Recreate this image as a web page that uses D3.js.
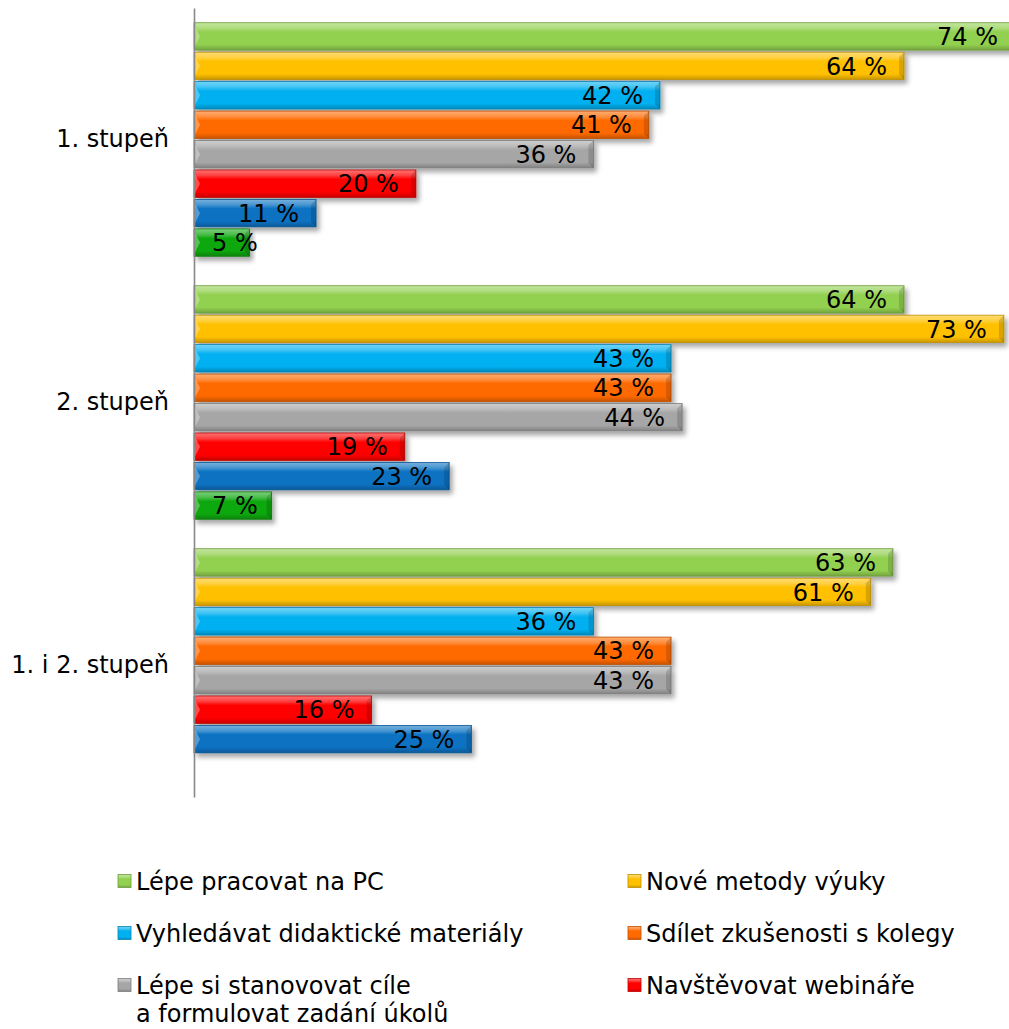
<!DOCTYPE html>
<html lang="cs">
<head>
<meta charset="UTF-8">
<title>Stupně - grouped bars</title>
<script src="https://d3js.org/d3.v7.min.js"></script>
<style>
    html, body { margin: 0; padding: 0; background: #fff; overflow: hidden; }
    body { font-family: "DejaVu Sans", Verdana, sans-serif; }
    text { fill: #000; }
</style>
</head>
<body>
<svg width="1009" height="1029"></svg>
<script>
// data
const categories = ["1. stupeň", "2. stupeň", "1. i 2. stupeň"];
const seriesNames = [
    "Lépe pracovat na PC",
    "Nové metody výuky",
    "Vyhledávat didaktické materiály",
    "Sdílet zkušenosti s kolegy",
    "Lépe si stanovovat cíle\na formulovat zadání úkolů",
    "Navštěvovat webináře",
    "",
    ""
];
const pcValues = [74, 64, 63];
const metodyValues = [64, 73, 61];
const materialyValues = [42, 43, 36];
const zkusenostiValues = [41, 43, 43];
const cileValues = [36, 44, 43];
const webinareValues = [20, 19, 16];
const series7Values = [11, 23, 25];
const series8Values = [5, 7, null];
const colors = ["#92d050", "#ffc000", "#00b0f0", "#ff6a00", "#a6a6a6", "#ff0000", "#0a72c2", "#10a810"];

const allValues = [pcValues, metodyValues, materialyValues, zkusenostiValues,
    cileValues, webinareValues, series7Values, series8Values];

const svg = d3.select("svg");
const defs = svg.append("defs");

// bevel-ish gradients
colors.forEach((c, i) => {
    const base = d3.color(c);
    const g = defs.append("linearGradient").attr("id", "g" + i)
        .attr("x1", 0).attr("y1", 0).attr("x2", 0).attr("y2", 1);
    g.append("stop").attr("offset", "0%").attr("stop-color", d3.interpolateRgb(c, "#fff")(0.45));
    g.append("stop").attr("offset", "20%").attr("stop-color", d3.interpolateRgb(c, "#fff")(0.25));
    g.append("stop").attr("offset", "34%").attr("stop-color", c);
    g.append("stop").attr("offset", "80%").attr("stop-color", c);
    g.append("stop").attr("offset", "100%").attr("stop-color", base.darker(0.7));
});
const shadow = defs.append("filter").attr("id", "shadow")
    .attr("x", "-5%").attr("y", "-30%").attr("width", "115%").attr("height", "190%");
shadow.append("feDropShadow").attr("dx", 3).attr("dy", 4).attr("stdDeviation", 2.5)
    .attr("flood-color", "#000").attr("flood-opacity", 0.35);

const x = d3.scaleLinear().domain([0, 74]).range([194, 1015]);
const y0 = d3.scaleBand().domain(categories).range([8, 797]);
const y1 = d3.scaleBand().domain(d3.range(colors.length))
    .range([0, y0.bandwidth()]).paddingInner(0.07).paddingOuter(0.5);

const bars = [];
categories.forEach((cat, ci) => {
    allValues.forEach((vals, si) => {
        if (vals[ci] != null) bars.push({ cat, si, v: vals[ci] });
    });
});

const barG = svg.append("g");
const bar = barG.selectAll("g.bar").data(bars).join("g").attr("class", "bar");

bar.append("rect")
    .attr("x", x(0))
    .attr("y", d => y0(d.cat) + y1(d.si))
    .attr("width", d => x(d.v) - x(0))
    .attr("height", y1.bandwidth())
    .attr("fill", d => `url(#g${d.si})`)
    .attr("stroke", d => d3.color(colors[d.si]).darker(0.8))
    .attr("stroke-width", 0.8)
    .attr("filter", "url(#shadow)");

// bevel edges at both ends
bar.append("path")
    .attr("d", d => {
        const t = y0(d.cat) + y1(d.si), h = y1.bandwidth(), a = x(0);
        return `M${a},${t + 2}L${a + 6},${t + h / 2}L${a},${t + h - 2}Z`;
    })
    .attr("fill", "#fff").attr("opacity", 0.3);
bar.append("path")
    .attr("d", d => {
        const t = y0(d.cat) + y1(d.si), h = y1.bandwidth(), b = x(d.v);
        return `M${b},${t}L${b - 5},${t + 5}L${b - 5},${t + h - 5}L${b},${t + h}Z`;
    })
    .attr("fill", "#000").attr("opacity", 0.15);

// data labels
bar.append("text")
    .attr("y", d => y0(d.cat) + y1(d.si) + y1.bandwidth() / 2)
    .attr("dy", "0.36em")
    .attr("text-anchor", "end")
    .style("font-size", "24px")
    .text(d => d.v + " %")
    .attr("x", function (d) {
        const w = this.getComputedTextLength();
        return Math.max(x(d.v) - 17, x(0) + 18 + w);
    });

// axis line
svg.append("g")
    .attr("transform", `translate(${x(0)},0)`)
    .call(d3.axisLeft(y0).tickSize(0).tickPadding(25))
    .call(g => g.select(".domain").attr("stroke", "#888").attr("stroke-width", 1.6))
    .call(g => g.selectAll("text").style("font-size", "24px")
        .style("font-family", "'DejaVu Sans', Verdana, sans-serif").attr("fill", "#000"));

// legend
const legendItems = seriesNames.map((n, i) => ({ n, i })).filter(d => d.n);
const legend = svg.append("g");
const li = legend.selectAll("g").data(legendItems).join("g")
    .attr("transform", d => `translate(${d.i % 2 ? 628 : 118},${881 + Math.floor(d.i / 2) * 52})`);
li.append("rect")
    .attr("x", 0).attr("y", -6.5).attr("width", 13).attr("height", 13)
    .attr("fill", d => `url(#g${d.i})`)
    .attr("stroke", d => d3.color(colors[d.i]).darker(0.8)).attr("stroke-width", 0.8);
li.selectAll("text")
    .data(d => d.n.split("\n"))
    .join("text")
    .style("font-size", "24px")
    .attr("x", 18)
    .attr("y", (d, k) => k * 28)
    .attr("dy", "0.36em")
    .text(d => d);
</script>
</body>
</html>
